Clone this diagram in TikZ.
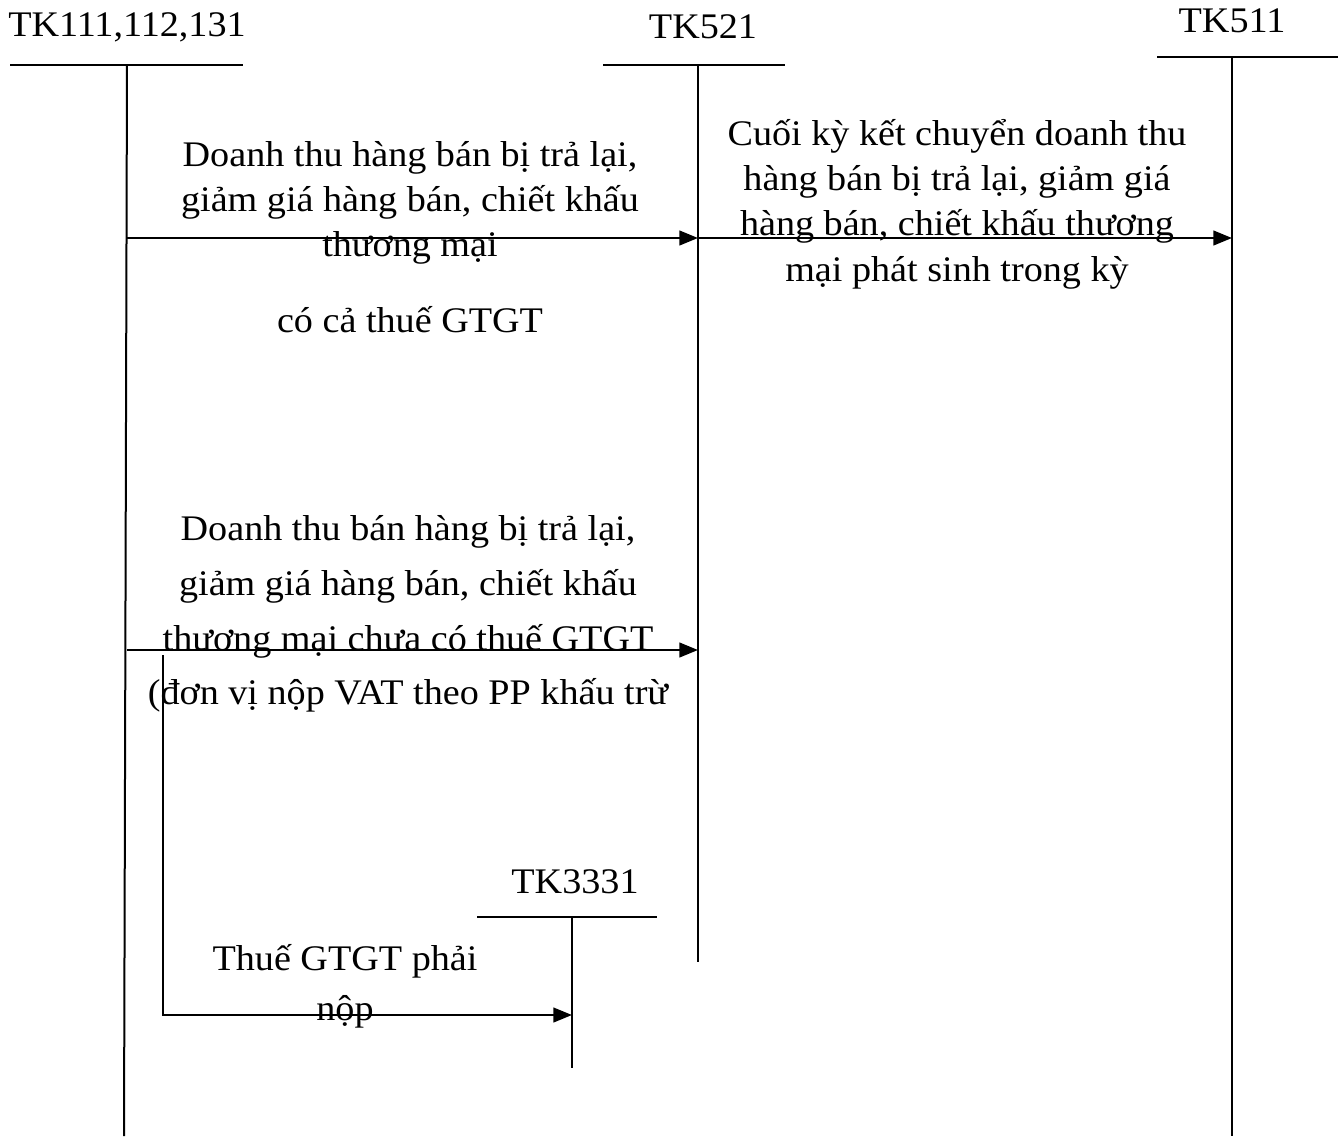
\documentclass[tikz,border=0pt]{standalone}
\usepackage{fontspec}
\setmainfont{Liberation Serif}[FakeStretch=1.06]
\usetikzlibrary{arrows.meta}
\begin{document}
\begin{tikzpicture}[x=0.75pt,y=-0.75pt,
  acct/.style={line width=1.5pt},
  flow/.style={line width=1.7pt,-{Triangle[length=14pt,width=11pt]}},
  lbl/.style={font=\fontsize{27}{34}\selectfont,align=center,inner sep=0pt},
  title/.style={font=\fontsize{27}{30}\selectfont,inner sep=0pt}]
\useasboundingbox (0,0) rectangle (1343,1136);
% T-account TK111
\node[title] (t1) at (127,27) {TK111,112,131};
\coordinate (t1l) at (10,65); \coordinate (t1r) at (243,65);
\coordinate (t1top) at (127,65); \coordinate (t1bot) at (124,1136);
\draw[acct] (t1l) -- (t1r);
\draw[acct] (t1top) -- (t1bot);
% TK521
\node[title] (t2) at (703,27) {TK521};
\coordinate (t2l) at (603,65); \coordinate (t2r) at (785,65);
\coordinate (t2top) at (698,65); \coordinate (t2bot) at (698,962);
\draw[acct] (t2l) -- (t2r);
\draw[acct] (t2top) -- (t2bot);
% TK511
\node[title] (t3) at (1232,21) {TK511};
\coordinate (t3l) at (1157,57); \coordinate (t3r) at (1338,57);
\coordinate (t3top) at (1232,57); \coordinate (t3bot) at (1232,1136);
\draw[acct] (t3l) -- (t3r);
\draw[acct] (t3top) -- (t3bot);
% TK3331
\node[title] (t4) at (575,882) {TK3331};
\coordinate (t4l) at (477,917); \coordinate (t4r) at (657,917);
\coordinate (t4top) at (572,917); \coordinate (t4bot) at (572,1068);
\draw[acct] (t4l) -- (t4r);
\draw[acct] (t4top) -- (t4bot);
% arrow 1
\coordinate (a1s) at (127,238); \coordinate (a1e) at (698,238);
\draw[flow] (a1s) -- (a1e);
\node[lbl] (l1) at (410,203) {Doanh thu hàng bán bị trả lại,\\giảm giá hàng bán, chiết khấu\\thương mại};
\node[lbl] (l1b) at (410,320) {có cả thuế GTGT};
% arrow 2
\coordinate (a2s) at (698,238); \coordinate (a2e) at (1232,238);
\draw[flow] (a2s) -- (a2e);
\node[lbl] (l2) at (957,204) {Cuối kỳ kết chuyển doanh thu\\hàng bán bị trả lại, giảm giá\\hàng bán, chiết khấu thương\\mại phát sinh trong kỳ};
% arrow 3
\coordinate (a3s) at (127,650); \coordinate (a3e) at (698,650);
\draw[flow] (a3s) -- (a3e);
\node[lbl,font=\fontsize{27}{41}\selectfont] (l3) at (408,614) {Doanh thu bán hàng bị trả lại,\\giảm giá hàng bán, chiết khấu\\thương mại chưa có thuế GTGT\\(đơn vị nộp VAT theo PP khấu trừ};
% arrow 4
\coordinate (a4s) at (163,655); \coordinate (a4c) at (163,1015); \coordinate (a4e) at (572,1015);
\draw[flow] (a4s) -- (a4c) -- (a4e);
\node[lbl,font=\fontsize{27}{37.5}\selectfont] (l4) at (345,986) {Thuế GTGT phải\\nộp};
\end{tikzpicture}
\end{document}
